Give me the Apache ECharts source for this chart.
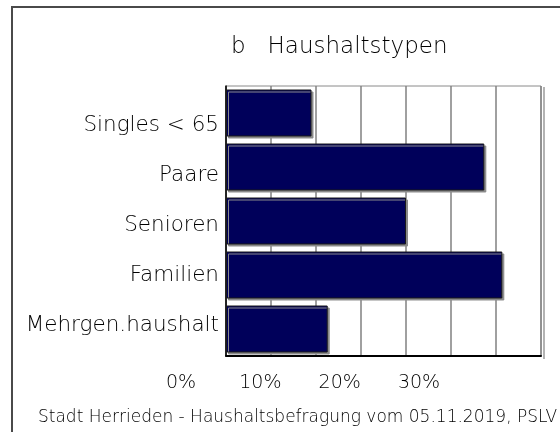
<!DOCTYPE html>
<html>
<head>
<meta charset="utf-8">
<script src="https://cdn.jsdelivr.net/npm/echarts@6/dist/echarts.min.js"></script>
<style>
  html, body { margin: 0; padding: 0; background: #fff; }
  #chart { width: 560px; height: 432px; }
</style>
</head>
<body>
<div id="chart"></div>
<script>
// Haushaltstypen (Anteile in %)
const categories = ['Singles < 65', 'Paare', 'Senioren', 'Familien', 'Mehrgen.haushalt'];
const values = [9.5, 28.7, 20.0, 30.7, 11.3];
// Beschriftung der x-Achse (im Original gegenüber den Gitterlinien verschoben)
const tickLabels = ['0%', '10%', '20%', '30%'];

const FONT = 'DejaVu Sans';
const W = 200;
const TXT = '#000';
const chart = echarts.init(document.getElementById('chart'));

const option = {
	backgroundColor: '#fff',
	textStyle: { fontFamily: FONT },
	title: [{
		text: 'b   Haushaltstypen',
		left: 226,
		top: 31,
		textStyle: { fontFamily: FONT, fontSize: 23, fontWeight: W, color: TXT }
	}, {
		text: 'Stadt Herrieden - Haushaltsbefragung vom 05.11.2019, PSLV',
		left: 33,
		top: 404,
		textStyle: { fontFamily: FONT, fontSize: 17, fontWeight: W, color: TXT }
	}],
	// Rahmen um das ganze Diagramm
	graphic: [{
		type: 'rect',
		shape: { x: 12, y: 7, width: 600, height: 500 },
		style: { fill: 'none', stroke: '#4a4a4a', lineWidth: 2 },
		silent: true
	}, {
		type: 'line',
		shape: { x1: 544, y1: 87, x2: 544, y2: 359 },
		style: { stroke: '#9a9a9a', lineWidth: 1.5 },
		silent: true
	}],
	grid: [
		// Zeichenfläche
		{ left: 226, top: 86, width: 315, height: 270, show: true, borderColor: '#8a8a8a', borderWidth: 1, backgroundColor: '#fff' },
		// nur Kategorienbeschriftung
		{ left: 219, top: 100, width: 1, height: 251 },
		// nur Prozentbeschriftung
		{ left: 181, top: 371, width: 238, height: 1 }
	],
	xAxis: [{
		gridIndex: 0,
		type: 'value',
		min: 0,
		max: 35,
		interval: 5,
		axisLabel: { show: false },
		axisTick: { show: false },
		axisLine: { show: true, lineStyle: { color: '#000', width: 2 } },
		splitLine: { show: true, lineStyle: { color: '#808080', width: 1.5 } }
	}, {
		gridIndex: 1,
		type: 'value',
		show: false
	}, {
		gridIndex: 2,
		type: 'category',
		data: tickLabels,
		boundaryGap: false,
		axisLine: { show: false },
		axisTick: { show: false },
		splitLine: { show: false },
		axisLabel: { margin: 2, fontFamily: FONT, fontSize: 19, fontWeight: W, color: TXT }
	}],
	yAxis: [{
		gridIndex: 0,
		type: 'category',
		data: categories,
		inverse: true,
		axisLabel: { show: false },
		axisTick: { show: false },
		axisLine: { show: true, lineStyle: { color: '#000', width: 1.5 } },
		splitLine: { show: false }
	}, {
		gridIndex: 1,
		type: 'category',
		data: categories,
		inverse: true,
		axisLine: { show: false },
		axisTick: { show: false },
		axisLabel: { margin: 0, fontFamily: FONT, fontSize: 21.5, fontWeight: W, color: TXT }
	}, {
		gridIndex: 2,
		type: 'value',
		show: false
	}],
	series: [{
		type: 'bar',
		xAxisIndex: 0,
		yAxisIndex: 0,
		data: values,
		barCategoryGap: '13%',
		itemStyle: {
			color: '#00005a',
			borderColor: '#1a1a1a',
			borderWidth: 1,
			shadowColor: '#8a8a8a',
			shadowOffsetX: 2,
			shadowOffsetY: 2,
			shadowBlur: 0
		},
		silent: true
	}]
};

chart.setOption(option);
</script>
</body>
</html>
